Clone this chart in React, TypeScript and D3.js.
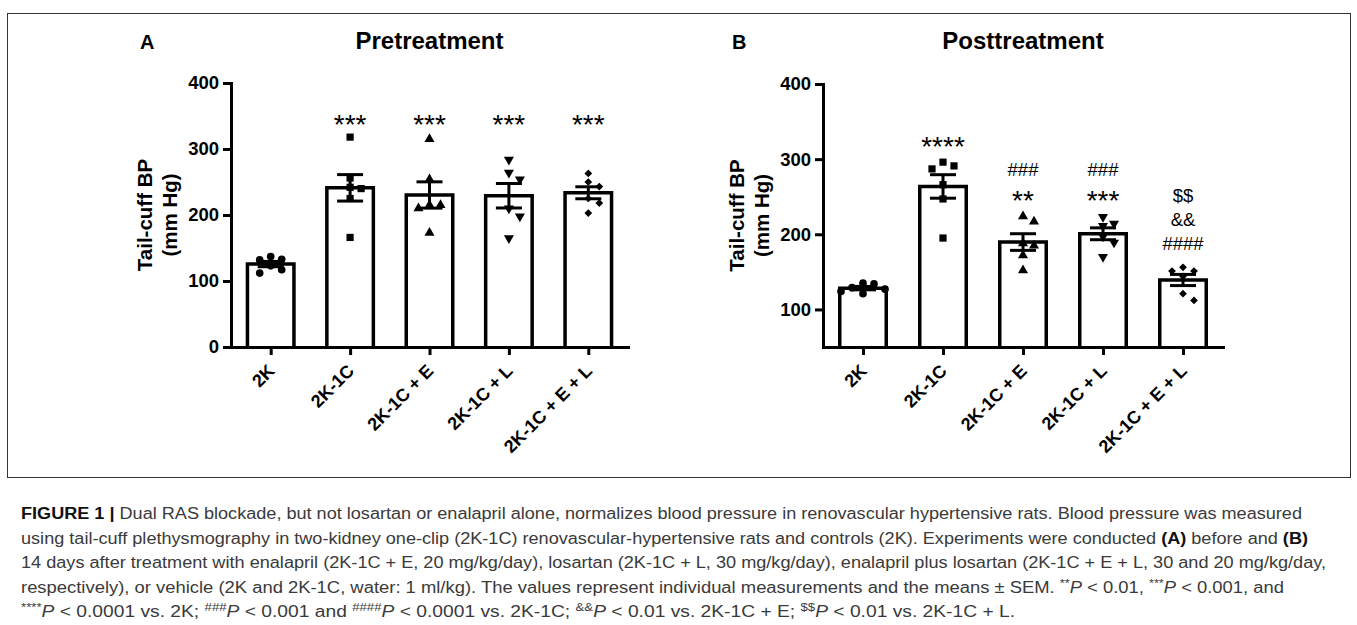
import React, { useRef, useEffect } from 'react';
import * as d3 from 'd3';

// groups on the x axis, shared by both panels
const groups = ['2K', '2K-1C', '2K-1C + E', '2K-1C + L', '2K-1C + E + L'];
const shapes = ['circle', 'square', 'triangle', 'triangleDown', 'diamond'];

// individual tail-cuff BP readings (mm Hg)
const preValues = [
  [133, 132, 137, 123, 112, 117],
  [318, 256, 240, 242, 166, 225],
  [315, 254, 215, 215, 210, 173],
  [284, 264, 254, 198, 165, 210],
  [263, 250, 243, 218, 203, 225],
];
const postValues = [
  [134, 135, 129, 127, 121, 124],
  [291, 296, 287, 266, 247, 195],
  [224, 217, 188, 185, 172, 152],
  [223, 214, 211, 197, 189, 170],
  [156, 151, 151, 144, 121, 112],
];

// significance marks, top to bottom, and the level (mm Hg) of the lowest one
const preSig = [[], ['***'], ['***'], ['***'], ['***']];
const preSigLevel = [0, 347, 347, 347, 347];
const postSig = [[], ['****'], ['###', '**'], ['###', '***'], ['$$', '&&', '####']];
const postSigLevel = [0, 325, 254, 254, 188];

const preTicks = [0, 100, 200, 300, 400];
const postTicks = [100, 200, 300, 400];

type Seg = { t: string; b?: boolean; i?: boolean; sup?: boolean };
const caption: Seg[][] = [
  [{ t: 'FIGURE 1 | ', b: true }, { t: 'Dual RAS blockade, but not losartan or enalapril alone, normalizes blood pressure in renovascular hypertensive rats. Blood pressure was measured' }],
  [{ t: 'using tail-cuff plethysmography in two-kidney one-clip (2K-1C) renovascular-hypertensive rats and controls (2K). Experiments were conducted ' }, { t: '(A)', b: true }, { t: ' before and ' }, { t: '(B)', b: true }],
  [{ t: '14 days after treatment with enalapril (2K-1C + E, 20 mg/kg/day), losartan (2K-1C + L, 30 mg/kg/day), enalapril plus losartan (2K-1C + E + L, 30 and 20 mg/kg/day,' }],
  [{ t: 'respectively), or vehicle (2K and 2K-1C, water: 1 ml/kg). The values represent individual measurements and the means \u00b1 SEM. ' }, { t: '**', sup: true }, { t: 'P', i: true }, { t: ' < 0.01, ' }, { t: '***', sup: true }, { t: 'P', i: true }, { t: ' < 0.001, and' }],
  [{ t: '****', sup: true }, { t: 'P', i: true }, { t: ' < 0.0001 vs. 2K; ' }, { t: '###', sup: true }, { t: 'P', i: true }, { t: ' < 0.001 and ' }, { t: '####', sup: true }, { t: 'P', i: true }, { t: ' < 0.0001 vs. 2K-1C; ' }, { t: '&&', sup: true }, { t: 'P', i: true }, { t: ' < 0.01 vs. 2K-1C + E; ' }, { t: '$$', sup: true }, { t: 'P', i: true }, { t: ' < 0.01 vs. 2K-1C + L.' }],
];
const captionEnds = [1302, 1308, 1326, 1284, 1015];

const W = 1357;
const H = 625;
const FONT = "'Liberation Sans', Arial, Helvetica, sans-serif";
const BASE_Y = 347;

type Panel = {
  letter: string;
  title: string;
  values: number[][];
  domain: [number, number];
  ticks: number[];
  axisX: number;
  axisEnd: number;
  top: number;
  sig: string[][];
  sigLevel: number[];
};

const panels: Panel[] = [
  { letter: 'A', title: 'Pretreatment', values: preValues, domain: [0, 400], ticks: preTicks, axisX: 231, axisEnd: 628, top: 83, sig: preSig, sigLevel: preSigLevel },
  { letter: 'B', title: 'Posttreatment', values: postValues, domain: [50, 400], ticks: postTicks, axisX: 823, axisEnd: 1223, top: 84, sig: postSig, sigLevel: postSigLevel },
];

function symbolFor(shape: string) {
  if (shape === 'circle') return d3.symbol(d3.symbolCircle, 46)();
  if (shape === 'square') return d3.symbol(d3.symbolSquare, 52)();
  if (shape === 'diamond') return d3.symbol(d3.symbolSquare, 30)();
  return d3.symbol(d3.symbolTriangle, 44)();
}

// simple beeswarm: spread points sideways when they would overlap
function swarm(vals: number[], y: (v: number) => number, cx: number) {
  const step = 11;
  const minD = 8.5;
  const order = d3.range(vals.length).sort((a, b) => vals[b] - vals[a]);
  const placed: { x: number; y: number }[] = [];
  order.forEach(i => {
    const py = y(vals[i]);
    let k = 0;
    for (;;) {
      const off = k === 0 ? 0 : (k % 2 ? 1 : -1) * Math.ceil(k / 2) * step;
      const px = cx + off;
      if (placed.every(p => Math.hypot(p.x - px, p.y - py) >= minD)) {
        placed.push({ x: px, y: py });
        break;
      }
      k++;
    }
  });
  return placed;
}

const App = () => {
  const svgRef = useRef<SVGSVGElement>(null);

  useEffect(() => {
    const svg = d3.select(svgRef.current);
    svg.selectAll('*').remove();

    svg.append('rect')
      .attr('x', 7.5).attr('y', 13.5)
      .attr('width', 1343).attr('height', 464)
      .attr('fill', 'none').attr('stroke', '#333').attr('stroke-width', 1);

    panels.forEach(p => {
      const g = svg.append('g');
      const x = d3.scalePoint<string>().domain(groups).range([p.axisX, p.axisEnd]).padding(0.5);
      const y = d3.scaleLinear().domain(p.domain).range([BASE_Y, p.top]);

      // letter + title
      g.append('text').attr('x', p.axisX - 91).attr('y', 49)
        .attr('font-family', FONT).attr('font-weight', 'bold').attr('font-size', 20)
        .text(p.letter);
      g.append('text').attr('x', x(groups[2])!).attr('y', 49)
        .attr('text-anchor', 'middle')
        .attr('font-family', FONT).attr('font-weight', 'bold').attr('font-size', 24)
        .text(p.title);

      // y label
      const midY = (BASE_Y + p.top) / 2;
      [['Tail-cuff BP', 79], ['(mm Hg)', 54]].forEach(([t, dx]) => {
        g.append('text')
          .attr('transform', `translate(${p.axisX - (dx as number)},${midY}) rotate(-90)`)
          .attr('text-anchor', 'middle')
          .attr('font-family', FONT).attr('font-weight', 'bold').attr('font-size', 20.5)
          .text(t as string);
      });

      // bars, points, error bars
      groups.forEach((name, i) => {
        const vals = p.values[i];
        const mean = d3.mean(vals)!;
        const sem = d3.deviation(vals)! / Math.sqrt(vals.length);
        const cx = x(name)!;
        const bw = 46.5;
        g.append('path')
          .attr('d', `M${cx - bw / 2},${BASE_Y} V${y(mean)} H${cx + bw / 2} V${BASE_Y}`)
          .attr('fill', '#fff').attr('stroke', '#000').attr('stroke-width', 3.5);

        swarm(vals, y, cx).forEach(pt => {
          const rot = shapes[i] === 'triangleDown' ? 180 : shapes[i] === 'diamond' ? 45 : 0;
          g.append('path')
            .attr('d', symbolFor(shapes[i]))
            .attr('transform', `translate(${pt.x},${pt.y}) rotate(${rot})`)
            .attr('fill', '#000');
        });

        const cap = 13;
        const eb = g.append('g').attr('stroke', '#000').attr('stroke-width', 3);
        eb.append('line').attr('x1', cx).attr('x2', cx).attr('y1', y(mean + sem)).attr('y2', y(mean - sem));
        [mean + sem, mean - sem].forEach(v => {
          eb.append('line').attr('x1', cx - cap).attr('x2', cx + cap).attr('y1', y(v)).attr('y2', y(v));
        });

        // significance stack
        const marks = p.sig[i];
        marks.forEach((m, j) => {
          const centerY = y(p.sigLevel[i]) - (marks.length - 1 - j) * 24;
          const isStar = m[0] === '*';
          g.append('text')
            .attr('x', cx).attr('y', centerY + (isStar ? 16 : 6.6))
            .attr('text-anchor', 'middle')
            .attr('font-family', FONT).attr('font-size', isStar ? 28 : 18.5)
            .text(m);
        });
      });

      // axes
      const yAxis = g.append('g')
        .attr('transform', `translate(${p.axisX},0)`)
        .call(d3.axisLeft(y).tickValues(p.ticks).tickSize(8).tickSizeOuter(0).tickPadding(4));
      const xAxis = g.append('g')
        .attr('transform', `translate(0,${BASE_Y})`)
        .call(d3.axisBottom(x).tickSize(8).tickSizeOuter(0));
      [yAxis, xAxis].forEach(a => {
        a.select('.domain').attr('stroke-width', 3).attr('stroke-linecap', 'square');
        a.selectAll('.tick line').attr('stroke-width', 3);
      });
      yAxis.selectAll('text')
        .attr('font-family', FONT).attr('font-weight', 'bold').attr('font-size', 18.5).attr('fill', '#000');
      xAxis.selectAll('text').remove();
      groups.forEach(name => {
        g.append('text')
          .attr('transform', `translate(${x(name)! + 5},${372}) rotate(-45)`)
          .attr('text-anchor', 'end')
          .attr('font-family', FONT).attr('font-weight', 'bold').attr('font-size', 18)
          .text(name);
      });
    });

    // caption
    caption.forEach((line, li) => {
      const t = svg.append('text')
        .attr('x', 21).attr('y', 519 + li * 24.5)
        .attr('font-family', FONT).attr('font-size', 16).attr('fill', '#3a3a3a')
        .attr('textLength', captionEnds[li] - 21).attr('lengthAdjust', 'spacingAndGlyphs');
      let shift = 0;
      line.forEach(s => {
        const target = s.sup ? -6 : 0;
        const sp = t.append('tspan').text(s.t).attr('dy', target - shift);
        shift = target;
        if (s.b) sp.attr('font-weight', 'bold').attr('fill', '#111');
        if (s.i) sp.attr('font-style', 'italic');
        if (s.sup) sp.attr('font-size', 11);
      });
    });
  }, []);

  return (
    <svg ref={svgRef} width={W} height={H}
      style={{ position: 'absolute', left: 0, top: 0, background: '#fff' }} />
  );
};

export default App;
